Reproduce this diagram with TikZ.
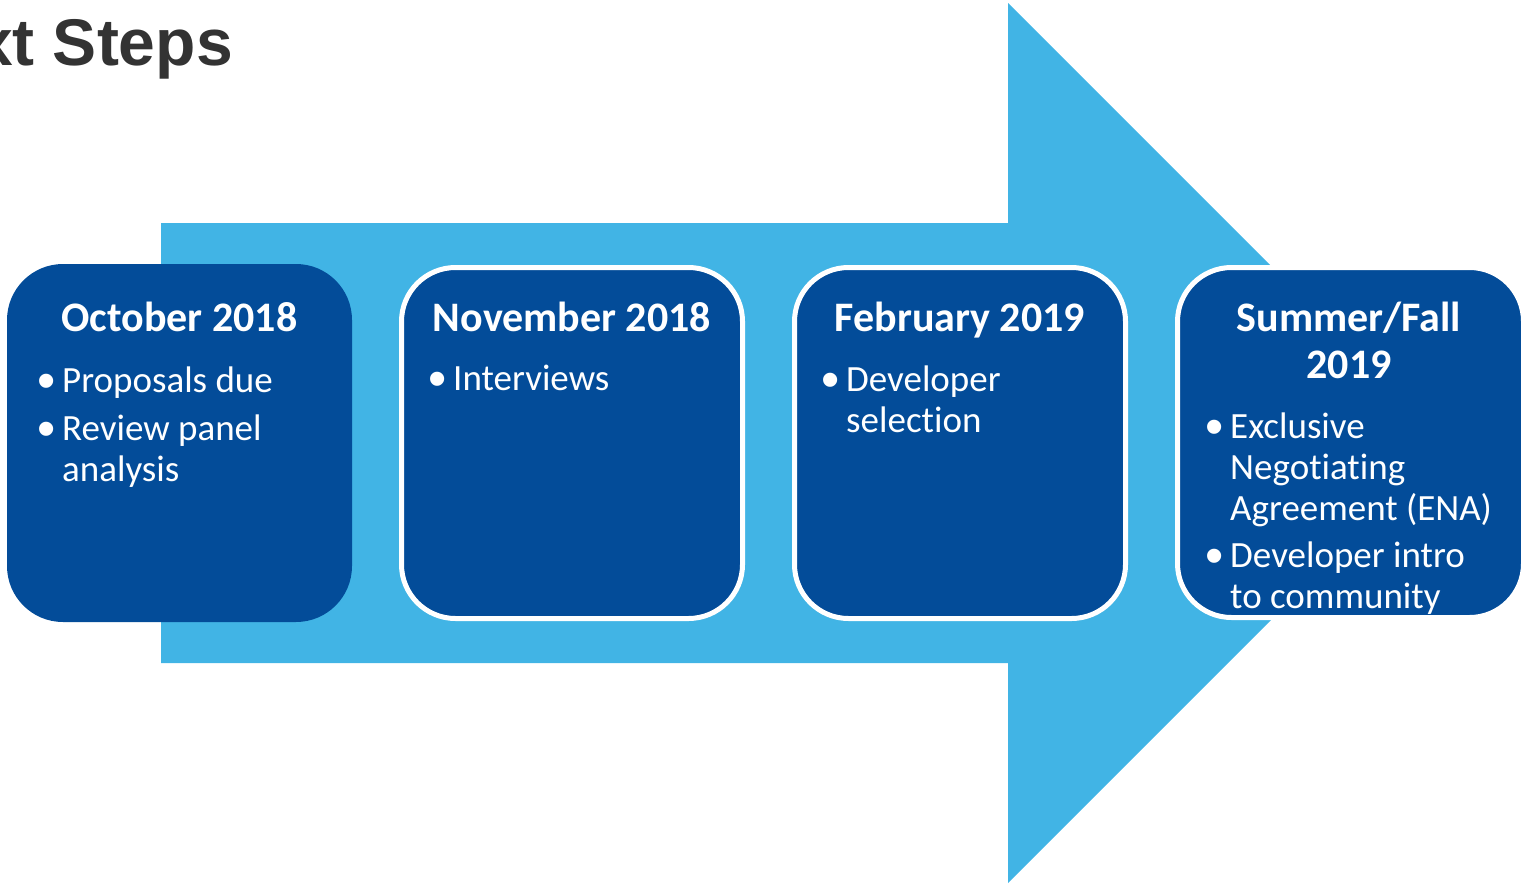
\documentclass[tikz,border=0pt]{standalone}
\usepackage{fontspec}
\setmainfont{Carlito}[Ligatures=CommonOff]
\newfontfamily\headfont{Liberation Sans}
\newfontfamily\bulfont{Liberation Sans}
\usepackage{array}
\definecolor{lightblue}{RGB}{65,180,229}
\definecolor{darkblue}{RGB}{3,76,153}
\definecolor{titlegray}{RGB}{51,51,51}
\newcommand{\bl}{\makebox[22pt][l]{\hspace*{-3pt}\raisebox{-6pt}{\bulfont\fontsize{52}{52}\selectfont\symbol{"2022}}}}
\tikzset{
  box/.style={fill=darkblue, draw=white, line width=5pt, rounded corners=54pt, inner sep=0pt},
  boxtitle/.style={text=white, font=\bfseries\fontsize{42}{47}\selectfont, anchor=base, inner sep=0pt},
  bullets/.style={text=white, font=\fontsize{37}{41}\selectfont, anchor=base west, inner sep=0pt},
  pagetitle/.style={text=titlegray, font=\headfont\bfseries\fontsize{66}{70}\selectfont, anchor=base east, inner sep=0pt},
}
\begin{document}
\begin{tikzpicture}[x=1pt,y=-1pt]
\useasboundingbox (0,0) rectangle (1522,886);
\begin{scope}
\clip (0,0) rectangle (1522,886);
% page title (cut at left edge)
\node[pagetitle] (title) at (233,65) {Next Steps};
% big arrow
\fill[lightblue] (161,223) -- (1008,223) -- (1008,3) -- (1448,443) -- (1008,883) -- (1008,663) -- (161,663) -- cycle;
% boxes
\node[box, draw=none, rounded corners=56pt, minimum width=345pt, minimum height=358pt] (b1) at (179.5,443) {};
\node[box, minimum width=341pt, minimum height=351pt] (b2) at (572,443) {};
\node[box, minimum width=331pt, minimum height=351pt] (b3) at (960,443) {};
\node[box, minimum width=346pt, minimum height=350pt] (b4) at (1350.5,442.5) {};
% titles
\node[boxtitle] (t1) at (179.5,331) {October 2018};
\node[boxtitle] (t2) at (572,331) {November 2018};
\node[boxtitle] (t3) at (960,331) {February 2019};
\node[boxtitle] (t4) at (1349,331) {\begin{tabular}[t]{@{}c@{}}Summer/Fall\\2019\end{tabular}};
% bullet lists
\node[bullets] (l1) at (40,392) {\begin{tabular}[t]{@{}l@{}l@{}}\bl & Proposals due\\[7pt]\bl & Review panel\\ & analysis\end{tabular}};
\node[bullets] (l2) at (431,390) {\begin{tabular}[t]{@{}l@{}l@{}}\bl & Interviews\end{tabular}};
\node[bullets] (l3) at (824,391) {\begin{tabular}[t]{@{}l@{}l@{}}\bl & Developer\\ & selection\end{tabular}};
\node[bullets] (l4) at (1208,438) {\begin{tabular}[t]{@{}l@{}l@{}}\bl & Exclusive\\ & Negotiating\\ & Agreement (ENA)\\[6pt]\bl & Developer intro\\ & to community\end{tabular}};
\end{scope}
\end{tikzpicture}
\end{document}
